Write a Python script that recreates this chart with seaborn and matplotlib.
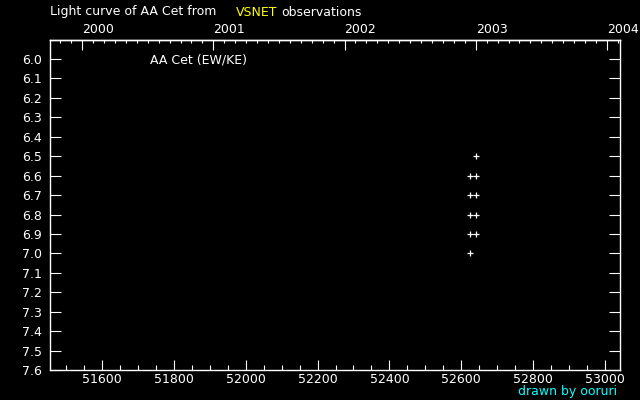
import numpy as np
import pandas as pd
import matplotlib
matplotlib.use("Agg")
import matplotlib.pyplot as plt
import seaborn as sns
from matplotlib.ticker import MultipleLocator, FixedLocator

# observations (MJD, visual magnitude)
mjd = [52625, 52625, 52625, 52625, 52625, 52640, 52640, 52640, 52640, 52640]
mag = [6.6, 6.7, 6.8, 6.9, 7.0, 6.5, 6.6, 6.7, 6.8, 6.9]
years = [2000, 2001, 2002, 2003, 2004]
star = "AA Cet (EW/KE)"

obs = pd.DataFrame({"MJD": mjd, "mag": mag})

sns.set_theme(style="dark", rc={
    "figure.facecolor": "black",
    "axes.facecolor": "black",
    "axes.edgecolor": "white",
    "axes.linewidth": 1.0,
    "axes.grid": False,
    "text.color": "white",
    "xtick.color": "white",
    "ytick.color": "white",
})
plt.rcParams["font.family"] = ["DejaVu Sans"]

fig = plt.figure(figsize=(6.4, 4.0), dpi=100)
ax = fig.add_axes([50 / 640, 30 / 400, 570 / 640, 330 / 400])

sns.scatterplot(data=obs, x="MJD", y="mag", ax=ax, marker="+", s=18,
                color="white", linewidth=0.9, legend=False)

ax.set_xlim(51455, 53042)
ax.set_ylim(7.6, 5.902)
ax.set_xlabel("")
ax.set_ylabel("")

ax.xaxis.set_major_locator(MultipleLocator(200))
ax.xaxis.set_minor_locator(MultipleLocator(50))
ax.yaxis.set_major_locator(MultipleLocator(0.1))
ax.yaxis.set_major_formatter(matplotlib.ticker.FormatStrFormatter("%.1f"))
ax.xaxis.set_major_formatter(matplotlib.ticker.FormatStrFormatter("%d"))

ax.tick_params(axis="x", which="major", direction="in", length=7.2, width=0.8,
               bottom=True, top=False, labelsize=9, pad=2, colors="white")
ax.tick_params(axis="x", which="minor", direction="in", length=3.6, width=0.8,
               bottom=True, top=False)
ax.tick_params(axis="y", which="major", direction="in", length=8, width=0.8,
               left=True, right=True, labelsize=9, pad=6, colors="white")
ax.yaxis.set_minor_locator(matplotlib.ticker.NullLocator())


def mjd2yr(x):
    return 2000 + (np.asarray(x) - 51544.5) / 365.25


def yr2mjd(y):
    return 51544.5 + (np.asarray(y) - 2000) * 365.25


sec = ax.secondary_xaxis("top", functions=(mjd2yr, yr2mjd))
sec.xaxis.set_major_locator(FixedLocator(years))
sec.xaxis.set_minor_locator(MultipleLocator(1 / 12))
sec.xaxis.set_major_formatter(matplotlib.ticker.FormatStrFormatter("%d"))
sec.tick_params(axis="x", which="major", direction="in", length=7.2, width=0.8,
                labelsize=9, pad=3, colors="white")
sec.tick_params(axis="x", which="minor", direction="in", length=2.4, width=0.8)
sec.spines["top"].set_color("white")
# year labels start at their tick
for lbl in sec.xaxis.get_ticklabels():
    lbl.set_horizontalalignment("left")

ax.text(100 / 570, 1 - 20 / 330, star, transform=ax.transAxes,
        fontsize=9, color="white", va="center", ha="left")

fig.text(50 / 640, 1 - 12 / 400, "Light curve of AA Cet from",
         fontsize=9, color="white", va="center", ha="left")
fig.text(236 / 640, 1 - 12 / 400, "VSNET", fontsize=9, color="yellow",
         va="center", ha="left")
fig.text(281 / 640, 1 - 12 / 400, "observations", fontsize=9, color="white",
         va="center", ha="left")
fig.text(617 / 640, 1 - 391 / 400, "drawn by ooruri", fontsize=9,
         color="cyan", va="center", ha="right")

fig.savefig("out.png", dpi=100, facecolor="black")
